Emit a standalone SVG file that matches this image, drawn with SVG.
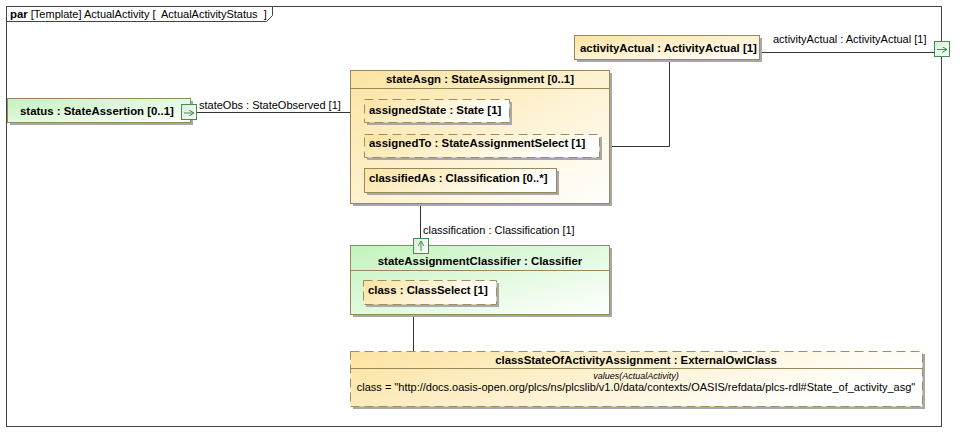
<svg xmlns="http://www.w3.org/2000/svg" width="964" height="440" viewBox="0 0 964 440">
<defs>
<linearGradient id="gy" x1="0" y1="0" x2="1" y2="1"><stop offset="0" stop-color="#fbe3a0"/><stop offset="1" stop-color="#ffffff"/></linearGradient>
<linearGradient id="gy2" x1="0" y1="0" x2="1" y2="0.3"><stop offset="0" stop-color="#fbe3a0"/><stop offset="1" stop-color="#ffffff"/></linearGradient>
<linearGradient id="gg" x1="0" y1="0" x2="1" y2="1"><stop offset="0" stop-color="#c2f3bc"/><stop offset="1" stop-color="#ffffff"/></linearGradient>
<linearGradient id="gp" x1="0" y1="0" x2="1" y2="1"><stop offset="0" stop-color="#d6ecd6"/><stop offset="1" stop-color="#ffffff"/></linearGradient>
<marker id="ah" viewBox="0 0 6 6" refX="5" refY="3" markerWidth="6" markerHeight="6" orient="auto" markerUnits="userSpaceOnUse"><path d="M0,0 L5,3 L0,6" fill="none" stroke="#3f8f4f" stroke-width="1"/></marker>
</defs>
<style>
text{font-family:"Liberation Sans",Arial,sans-serif;font-size:11px;fill:#000}
.b{font-weight:bold;font-size:11.4px}
.sh{fill:#a8a8a8}
.node{stroke:#968a5c;stroke-width:1}
.dash{stroke:#a08e5a;stroke-width:1;stroke-dasharray:9,5}
.ln{stroke:#333;stroke-width:1;fill:none}
.port{fill:url(#gp);stroke:#3f8f4f;stroke-width:1}
.pa{stroke:#3f8f4f;stroke-width:1;fill:none}
</style>
<rect x="0" y="0" width="964" height="440" fill="#fff"/>
<g id="frame">
<rect x="6.5" y="6.5" width="935" height="420" fill="#fff" stroke="#444"/>
<path d="M6.5,21.5 H266.5 L272.5,15.5 V6.5" fill="none" stroke="#444"/>
<text x="10" y="18" style="white-space:pre"><tspan class="b">par</tspan> [Template] ActualActivity [  ActualActivityStatus  ]</text>
</g>
<g id="connectors">
<path class="ln" d="M197,112.5 H364"/>
<path class="ln" d="M759,52.5 H934"/>
<path class="ln" d="M669.5,59 V146.5 H599"/>
<path class="ln" d="M420.5,192 V239"/>
<path class="ln" d="M413.5,304 V351"/>
<text x="199" y="109">stateObs : StateObserved [1]</text>
<text x="773" y="43">activityActual : ActivityActual [1]</text>
<text x="423" y="234">classification : Classification [1]</text>
</g>
<g id="status">
<rect class="sh" x="10" y="101" width="183" height="24"/>
<rect class="node" x="7.5" y="98.5" width="183" height="24" fill="url(#gg)"/>
<text class="b" x="20" y="115">status : StateAssertion [0..1]</text>
<rect class="port" x="181.5" y="104.5" width="15" height="15"/>
<path class="pa" d="M184,113 H194" marker-end="url(#ah)"/>
</g>
<g id="activityActual">
<rect class="sh" x="577" y="38" width="185" height="24"/>
<rect class="node" x="574.5" y="35.5" width="185" height="24" fill="url(#gy)"/>
<text class="b" x="580" y="52">activityActual : ActivityActual [1]</text>
</g>
<g id="portActivityActual">
<rect class="port" x="934.5" y="41.5" width="15" height="15"/>
<path class="pa" d="M937,49.5 H947" marker-end="url(#ah)"/>
</g>
<g id="stateAsgn">
<rect class="sh" x="353" y="73" width="259" height="133"/>
<rect class="node" x="350.5" y="70.5" width="259" height="133" fill="url(#gy)"/>
<path class="node" d="M350.5,88.5 H609.5"/>
<text class="b" x="480" y="83" text-anchor="middle">stateAsgn : StateAssignment [0..1]</text>
<g id="assignedState">
<rect class="sh" x="367" y="102" width="145" height="23"/>
<rect x="364.5" y="99.5" width="145" height="23" fill="url(#gy2)"/>
<rect class="dash" x="364.5" y="99.5" width="145" height="23" fill="none"/>
<text class="b" x="369" y="114">assignedState : State [1]</text>
</g>
<g id="assignedTo">
<rect class="sh" x="367" y="137" width="235" height="23"/>
<rect x="364.5" y="134.5" width="235" height="23" fill="url(#gy2)"/>
<rect class="dash" x="364.5" y="134.5" width="235" height="23" fill="none"/>
<text class="b" x="369" y="147">assignedTo : StateAssignmentSelect [1]</text>
</g>
<g id="classifiedAs">
<rect class="sh" x="367" y="171" width="192" height="24"/>
<rect class="node" x="364.5" y="168.5" width="192" height="24" fill="url(#gy2)"/>
<text class="b" x="369" y="182">classifiedAs : Classification [0..*]</text>
</g>
</g>
<g id="stateAssignmentClassifier">
<rect class="sh" x="353" y="248" width="259" height="69"/>
<rect class="node" x="350.5" y="245.5" width="259" height="69" fill="url(#gg)"/>
<path class="node" d="M350.5,270.5 H609.5"/>
<text class="b" x="480" y="265" text-anchor="middle">stateAssignmentClassifier : Classifier</text>
<g id="class">
<rect class="sh" x="366" y="283" width="133" height="24"/>
<rect x="363.5" y="280.5" width="133" height="24" fill="url(#gy2)"/>
<rect class="dash" x="363.5" y="280.5" width="133" height="24" fill="none"/>
<text class="b" x="368" y="294">class : ClassSelect [1]</text>
</g>
<rect class="port" x="413.5" y="238.5" width="15" height="15"/>
<path class="pa" d="M421,251 V241" marker-end="url(#ah)"/>
</g>
<g id="classStateOfActivityAssignment">
<rect class="sh" x="353" y="354" width="572" height="55"/>
<rect x="350.5" y="351.5" width="572" height="55" fill="url(#gy2)"/>
<rect class="dash" x="350.5" y="351.5" width="572" height="55" fill="none"/>
<path class="node" d="M350.5,368.5 H922.5"/>
<text class="b" x="636" y="364" text-anchor="middle">classStateOfActivityAssignment : ExternalOwlClass</text>
<text x="636" y="379" text-anchor="middle" font-style="italic" style="font-size:9px">values(ActualActivity)</text>
<text x="636" y="391" text-anchor="middle">class = "http://docs.oasis-open.org/plcs/ns/plcslib/v1.0/data/contexts/OASIS/refdata/plcs-rdl#State_of_activity_asg"</text>
</g>
</svg>
